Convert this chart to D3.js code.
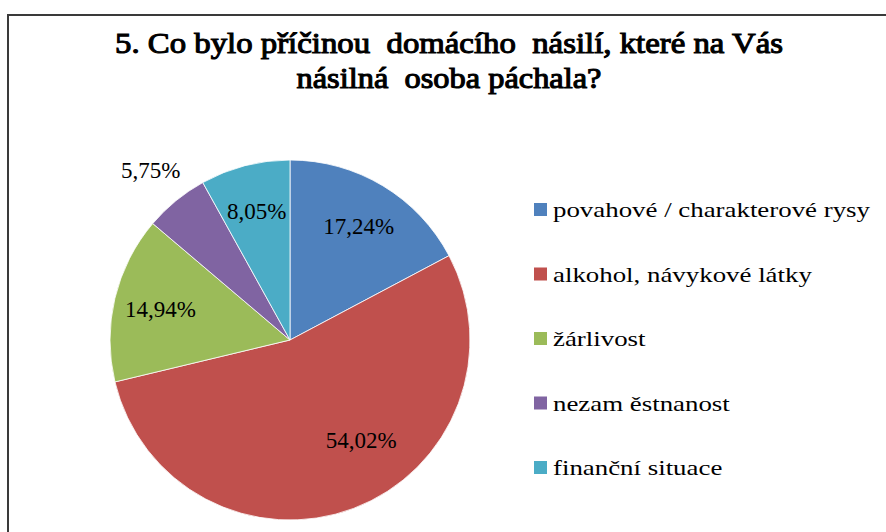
<!DOCTYPE html>
<html><head><meta charset="utf-8">
<script src="https://cdn.jsdelivr.net/npm/d3@7"></script>
</head>
<body>
<svg id="chart" width="886" height="532"></svg>
<script>
const categories = ["povahové / charakterové rysy", "alkohol, návykové látky", "žárlivost", "nezam ěstnanost", "finanční situace"];
const values = [17.24, 54.02, 14.94, 5.75, 8.05];
const valueLabels = ["17,24%", "54,02%", "14,94%", "5,75%", "8,05%"];
const colors = ["#4F81BD", "#C0504D", "#9BBB59", "#8064A2", "#4BACC6"];
const titleLines = ["5. Co bylo příčinou  domácího  násilí, které na Vás", "násilná  osoba páchala?"];

const FONT_STACK = '"Times New Roman", "Liberation Serif", Tinos, FreeSerif, serif';
const svg = d3.select("#chart").style("position", "absolute").style("left", "0px").style("top", "0px")
  .style("font-family", FONT_STACK);
const W = 886, H = 532;

function serifText(sel) {
  return sel.style("font-family", FONT_STACK);
}

// frame
svg.append("path").attr("d", `M8,${H} L8,15 L${W},15`)
  .attr("fill", "none").attr("stroke", "#3a3a3a").attr("stroke-width", 2);

// legend
const legend = svg.append("g");
const ly = d3.scalePoint().domain(categories).range([210, 468]);
const legendTexts = [];
categories.forEach((c, i) => {
  legend.append("rect").attr("x", 534).attr("y", ly(c) - 7).attr("width", 13).attr("height", 13)
    .attr("fill", colors[i]);
  const el = legend.append("text").attr("x", 553).attr("y", ly(c) + 7)
    .attr("font-size", 22).attr("fill", "#000").text(c);
  serifText(el);
  legendTexts.push(el);
});
const firstW = legendTexts[0].node().getComputedTextLength();
const k = firstW > 0 ? Math.min(1.25, Math.max(0.9, 317 / firstW)) : 1;
legendTexts.forEach(el => {
  const w = el.node().getComputedTextLength();
  el.attr("textLength", w * k).attr("lengthAdjust", "spacingAndGlyphs");
});

// pie
const cx = 290, cy = 340, R = 180;
const pie = d3.pie().sort(null).value(d => d);
const arcs = pie(values);
const arc = d3.arc().innerRadius(0).outerRadius(R);
const g = svg.append("g").attr("transform", `translate(${cx},${cy})`);
g.selectAll("path.slice").data(arcs).join("path").attr("class", "slice")
  .attr("d", arc).attr("fill", (d, i) => colors[i])
  .attr("stroke", "#fff").attr("stroke-width", 0.8);

const lbls = g.selectAll("text.lbl").data(arcs).join("text").attr("class", "lbl")
  .attr("transform", d => {
    const share = (d.endAngle - d.startAngle) / (2 * Math.PI);
    const r = share < 0.07 ? R * 1.22 : (share > 0.5 ? R * 0.68 : R * 0.74);
    let a = (d.startAngle + d.endAngle) / 2;
    if (share > 0.5) a -= 0.26;
    return `translate(${r * Math.sin(a)},${-r * Math.cos(a) + 8})`;
  })
  .attr("text-anchor", "middle").attr("font-size", 23)
  .attr("fill", "#000").text((d, i) => valueLabels[i]);
serifText(lbls);

// title
const titleWidths = [668, 305];
const titleY = [53, 88];
titleLines.forEach((t, i) => {
  const el = svg.append("text").attr("x", 449).attr("y", titleY[i])
    .attr("xml:space", "preserve")
    .attr("text-anchor", "middle")
    .attr("font-size", 30)
    .attr("fill", "#000").attr("stroke", "#000").attr("stroke-width", 1.1)
    .text(t);
  serifText(el);
  el.attr("textLength", titleWidths[i]).attr("lengthAdjust", "spacingAndGlyphs");
});
</script>
</body></html>
